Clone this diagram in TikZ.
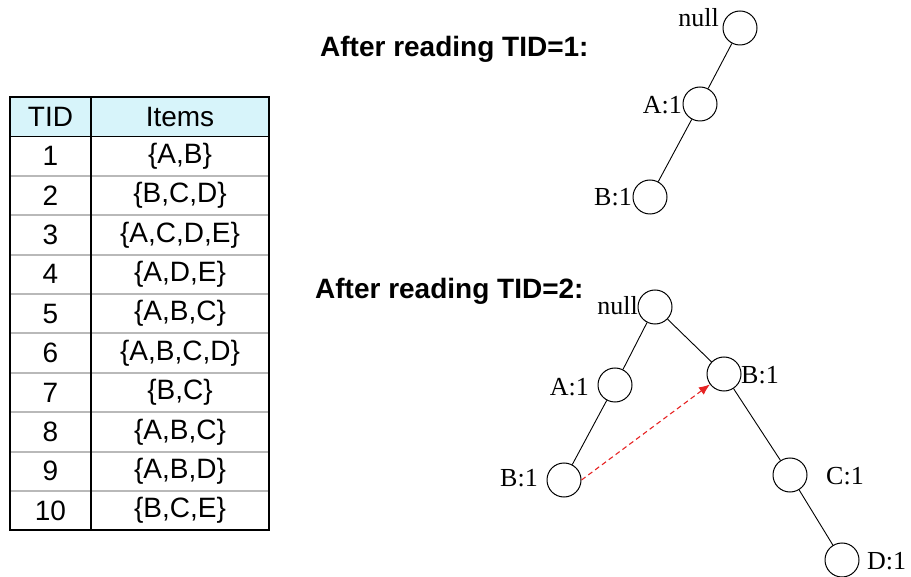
\documentclass[tikz,border=0pt]{standalone}
\usepackage{fontspec}
\setmainfont{Liberation Serif}
\setsansfont{Liberation Sans}
\usetikzlibrary{arrows.meta}
\definecolor{hdrfill}{RGB}{215,244,250}
\definecolor{rowline}{RGB}{185,185,185}
\definecolor{arrowred}{RGB}{230,35,35}
\begin{document}
\begin{tikzpicture}[x=1pt,y=-1pt,
  tcell/.style={font=\sffamily\fontsize{28}{30}\selectfont, inner sep=0pt},
  heading/.style={font=\sffamily\bfseries\fontsize{28}{30}\selectfont, inner sep=0pt, anchor=west},
  tnode/.style={circle, draw, line width=1pt, minimum size=34pt, inner sep=0pt},
  tlabel/.style={font=\fontsize{26}{28}\selectfont, inner sep=0pt},
  edge/.style={line width=0.9pt},
  linkarrow/.style={arrowred, dashed, line width=1.1pt, dash pattern=on 5pt off 3.5pt, -{Latex[length=11pt,width=9pt]}}
]
\useasboundingbox (0,0) rectangle (911,577);
% ---- table ----
\def\rh{39.4}
\fill[hdrfill] (10,97) rectangle (269,97+\rh);
\foreach \k in {2,...,10}{
  \draw[rowline, line width=2pt] (10,97+\k*\rh) -- (269,97+\k*\rh);
}
\draw[line width=1.6pt] (10,97+\rh) -- (269,97+\rh);
\draw[line width=2pt] (91,97) -- (91,97+11*\rh);
\draw[line width=2pt] (10,97) rectangle (269,97+11*\rh);
\node[tcell] (hTID) at (50.5,97+0.5*\rh) {TID};
\node[tcell] (hItems) at (180,97+0.5*\rh) {Items};
\foreach \i/\s in {1/{\{A,B\}},2/{\{B,C,D\}},3/{\{A,C,D,E\}},4/{\{A,D,E\}},5/{\{A,B,C\}},6/{\{A,B,C,D\}},7/{\{B,C\}},8/{\{A,B,C\}},9/{\{A,B,D\}},10/{\{B,C,E\}}}{
  \node[tcell] (tid\i) at (50.5,97+\i*\rh+0.5*\rh) {\i};
  \node[tcell] (items\i) at (180,97+\i*\rh+0.5*\rh) {\s};
}
% ---- headings ----
\node[heading] (head1) at (320,49) {After reading TID=1:};
\node[heading] (head2) at (315,291) {After reading TID=2:};
% ---- tree 1 ----
\node[tnode] (a0) at (740,28) {};
\node[tnode] (a1) at (700,104) {};
\node[tnode] (a2) at (650,197) {};
\draw[edge] (a0) -- (a1);
\draw[edge] (a1) -- (a2);
\node[tlabel, anchor=base east] (la0) at (719,27) {null};
\node[tlabel, anchor=base east] (la1) at (682,114) {A:1};
\node[tlabel, anchor=base east] (la2) at (632,206) {B:1};
% ---- tree 2 ----
\node[tnode] (n0) at (655,307) {};
\node[tnode] (nA) at (615,385) {};
\node[tnode] (nB) at (724,374) {};
\node[tnode] (nAB) at (564,480) {};
\node[tnode] (nC) at (790,475) {};
\node[tnode] (nD) at (842,560) {};
\draw[edge] (n0) -- (nA);
\draw[edge] (n0) -- (nB);
\draw[edge] (nA) -- (nAB);
\draw[edge] (nB) -- (nC);
\draw[edge] (nC) -- (nD);
\node[tlabel, anchor=base east] (ln0) at (638,315) {null};
\node[tlabel, anchor=base east] (lnA) at (589,396) {A:1};
\node[tlabel, anchor=base west] (lnB) at (741,384) {B:1};
\node[tlabel, anchor=base east] (lnAB) at (538,486) {B:1};
\node[tlabel, anchor=base west] (lnC) at (826,484) {C:1};
\node[tlabel, anchor=base west] (lnD) at (867,569) {D:1};
\draw[linkarrow] (nAB.east) -- (nB);
\end{tikzpicture}
\end{document}
